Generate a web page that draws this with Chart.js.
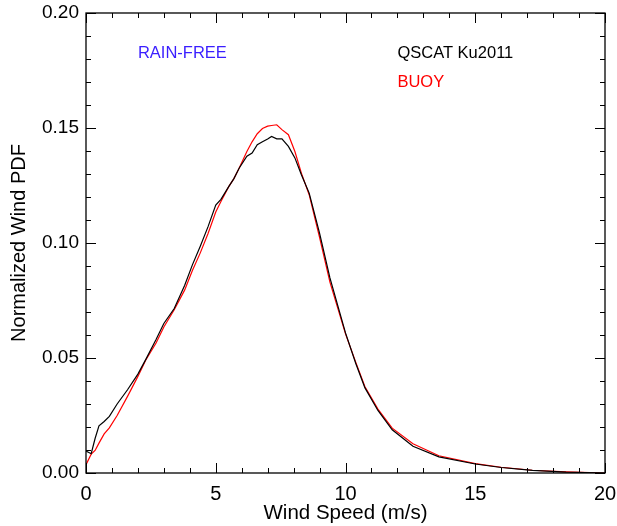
<!DOCTYPE html>
<html>
<head>
<meta charset="utf-8">
<script src="https://cdn.jsdelivr.net/npm/chart.js@4/dist/chart.umd.min.js"></script>
<style>
    body { margin: 0; background: #fff; }
    canvas { display: block; }
</style>
</head>
<body>
<canvas id="pdfChart" width="617" height="526"></canvas>
<script>
// wind speed bins (m/s)
const windSpeed = [0, 0.2, 0.35, 0.5, 0.7, 0.9, 1.2, 1.6, 2.0, 2.3, 2.7, 3.0, 3.4, 3.8, 4.1, 4.4, 4.7, 5.0, 5.2, 5.5,
    5.7, 5.9, 6.2, 6.4, 6.6, 6.8, 7.0, 7.15, 7.35, 7.55, 7.8, 8.05, 8.3, 8.6, 9.0, 9.4, 10.0, 10.4, 10.75, 11.25,
    11.8, 12.6, 13.6, 15.0, 16.0, 17.2, 18.5, 20];

const qscatPdf = [0.0095, 0.0084, 0.015, 0.0205, 0.0224, 0.0246, 0.030, 0.0362, 0.043, 0.0493, 0.058, 0.065, 0.0715,
    0.0815, 0.0905, 0.0985, 0.107, 0.1165, 0.119, 0.1245, 0.128, 0.1325, 0.1377, 0.1391, 0.1427, 0.144, 0.1452,
    0.1463, 0.1453, 0.1453, 0.142, 0.137, 0.1297, 0.1217, 0.1043, 0.0848, 0.0609, 0.0475, 0.037, 0.0272, 0.0188,
    0.0116, 0.007, 0.0039, 0.0024, 0.0011, 0.0004, 0.0];

const buoyPdf = [0.0036, 0.0082, 0.0098, 0.013, 0.017, 0.0196, 0.025, 0.0333, 0.042, 0.049, 0.0565, 0.0635, 0.071,
    0.0795, 0.088, 0.0956, 0.104, 0.1135, 0.118, 0.1245, 0.128, 0.1325, 0.1398, 0.144, 0.1475, 0.1498, 0.1508,
    0.1511, 0.1514, 0.1493, 0.1471, 0.1398, 0.1304, 0.121, 0.1025, 0.083, 0.0605, 0.048, 0.0375, 0.0278, 0.0195,
    0.0127, 0.0075, 0.0041, 0.0025, 0.0012, 0.0005, 0.0];

const seriesNames = ['QSCAT Ku2011', 'BUOY'];
const seriesColors = ['#000000', '#ff0000'];

// annotation text: [text, x (m/s), y (pdf), colour]
const notes = [
    ['RAIN-FREE', 2.0, 0.1822, '#3a1eff'],
    [seriesNames[0], 12.0, 0.1822, seriesColors[0]],
    [seriesNames[1], 12.0, 0.1696, seriesColors[1]]
];

const FONT = "'Liberation Sans', Arial, sans-serif";
Chart.defaults.font.family = FONT;
Chart.defaults.color = '#000';

function toPoints(ys) {
    return windSpeed.map((w, i) => ({ x: w, y: ys[i] }));
}

// box around the plot plus inward ticks on all four sides, and the text notes
const frameAndNotes = {
    id: 'frameAndNotes',
    afterDatasetsDraw(chart) {
        const { ctx, chartArea: a, scales: { x, y } } = chart;
        ctx.save();
        ctx.strokeStyle = '#000';
        ctx.lineWidth = 1.3;
        ctx.strokeRect(a.left, a.top, a.right - a.left, a.bottom - a.top);

        ctx.lineWidth = 1;
        ctx.beginPath();
        for (let i = 0; i <= 20; i++) {
            const px = Math.round(x.getPixelForValue(i)) + 0.5;
            const len = i % 5 === 0 ? 10 : 5;
            ctx.moveTo(px, a.bottom); ctx.lineTo(px, a.bottom - len);
            ctx.moveTo(px, a.top); ctx.lineTo(px, a.top + len);
        }
        for (let i = 0; i <= 20; i++) {
            const py = Math.round(y.getPixelForValue(i / 100)) + 0.5;
            const len = i % 5 === 0 ? 10 : 5;
            ctx.moveTo(a.left, py); ctx.lineTo(a.left + len, py);
            ctx.moveTo(a.right, py); ctx.lineTo(a.right - len, py);
        }
        ctx.stroke();

        ctx.font = '16.5px ' + FONT;
        ctx.textBaseline = 'middle';
        ctx.textAlign = 'left';
        notes.forEach(([text, nx, ny, color]) => {
            ctx.fillStyle = color;
            ctx.fillText(text, x.getPixelForValue(nx), y.getPixelForValue(ny));
        });
        ctx.restore();
    }
};

// keep the plot box where it is in the original, whatever the label overhang
function noOverhang(scale) {
    scale.paddingLeft = 0;
    scale.paddingRight = 0;
    scale.paddingTop = 0;
    scale.paddingBottom = 0;
}

new Chart(document.getElementById('pdfChart'), {
    type: 'line',
    data: {
        datasets: [
            {
                label: seriesNames[0],
                data: toPoints(qscatPdf),
                borderColor: seriesColors[0],
                borderWidth: 1.2,
                pointRadius: 0,
                tension: 0,
                fill: false
            },
            {
                label: seriesNames[1],
                data: toPoints(buoyPdf),
                borderColor: seriesColors[1],
                borderWidth: 1.2,
                pointRadius: 0,
                tension: 0,
                fill: false
            }
        ]
    },
    options: {
        responsive: false,
        animation: false,
        layout: { padding: { top: 13, right: 12, left: 0, bottom: 0 } },
        plugins: {
            legend: { display: false },
            tooltip: { enabled: false }
        },
        scales: {
            x: {
                type: 'linear',
                min: 0,
                max: 20,
                grid: { display: false, drawTicks: false },
                border: { display: false },
                ticks: {
                    stepSize: 5,
                    padding: 9,
                    maxRotation: 0,
                    font: { size: 20 },
                    color: '#000'
                },
                title: {
                    display: true,
                    text: 'Wind Speed (m/s)',
                    font: { size: 20.5 },
                    color: '#000',
                    padding: { top: 0, bottom: 0 }
                },
                afterFit(scale) { scale.height = 53; noOverhang(scale); }
            },
            y: {
                min: 0,
                max: 0.2,
                grid: { display: false, drawTicks: false },
                border: { display: false },
                ticks: {
                    stepSize: 0.05,
                    padding: 7,
                    font: { size: 19 },
                    color: '#000',
                    callback: v => v.toFixed(2)
                },
                title: {
                    display: true,
                    text: 'Normalized Wind PDF',
                    font: { size: 20 },
                    color: '#000',
                    padding: { top: 7, bottom: 0 }
                },
                afterFit(scale) { scale.width = 86; noOverhang(scale); }
            }
        }
    },
    plugins: [frameAndNotes]
});
</script>
</body>
</html>
